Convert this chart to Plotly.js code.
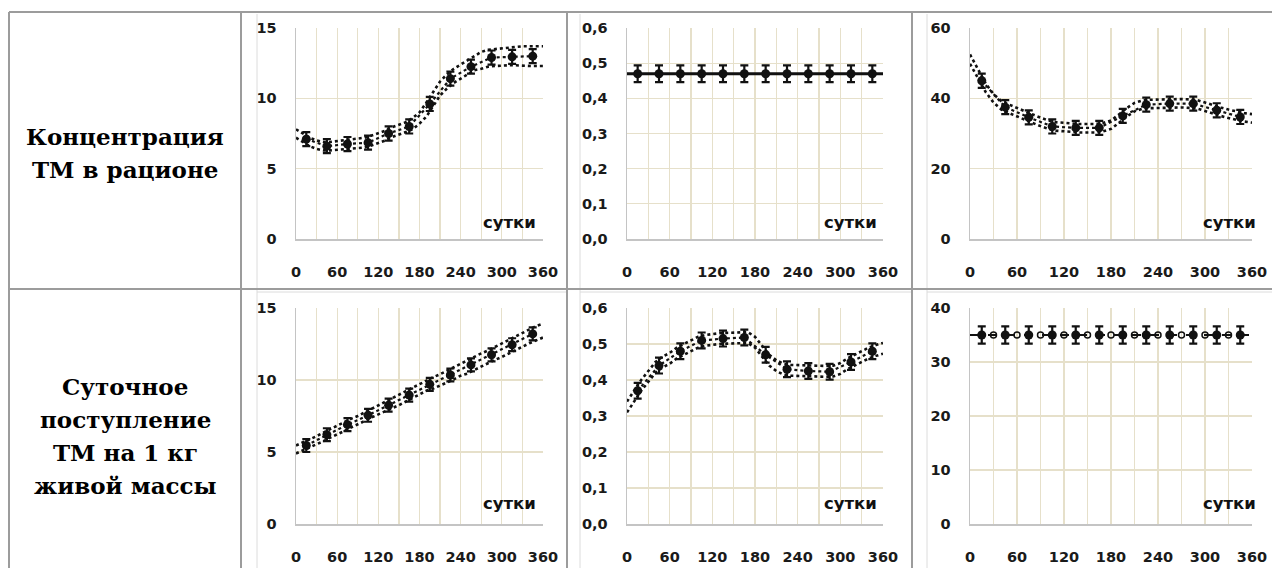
<!DOCTYPE html>
<html>
<head>
<meta charset="utf-8">
<script src="https://cdn.plot.ly/plotly-3.0.1.min.js"></script>
<style>
  html, body { margin: 0; padding: 0; background: #fff; }
  #chart { width: 1272px; height: 568px; }
</style>
</head>
<body>
<div id="chart"></div>
<script>
// ---------- DATA ----------
const days10 = [0,10,20,30,40,50,60,70,80,90,100,110,120,130,140,150,160,170,180,190,200,210,220,230,240,250,260,270,280,290,300,310,320,330,340,350,360];
const daysM = [15,45,75,105,135,165,195,225,255,285,315,345];
const days30 = [0,30,60,90,120,150,180,210,240,270,300,330,360];
const daysMid = [30,60,90,120,150,180,210,240,270,300,330];
const xTickText = ['0','','60','','120','','180','','240','','300','','360'];

const rowLabel1 = ['Концентрация', 'ТМ в рационе'];
const rowLabel2 = ['Суточное', 'поступление', 'ТМ на 1 кг', 'живой массы'];
const axisWord = 'сутки';

// Row 1, chart 1 (0–15)
const c11Upper = [7.8,7.5,7.2,7.0,6.9,6.9,6.95,7.0,7.05,7.1,7.2,7.35,7.5,7.7,7.95,8.1,8.3,8.6,9.0,9.7,10.5,11.2,11.7,12.1,12.4,12.7,13.0,13.3,13.45,13.5,13.6,13.65,13.65,13.7,13.7,13.7,13.7];
const c11Lower = [7.2,6.9,6.6,6.4,6.3,6.3,6.35,6.4,6.45,6.5,6.5,6.65,6.8,7.0,7.25,7.4,7.6,7.8,8.2,8.7,9.5,10.2,10.7,11.1,11.4,11.7,12.0,12.1,12.25,12.3,12.35,12.35,12.35,12.3,12.3,12.3,12.3];
const c11Mean = [7.1,6.6,6.75,6.85,7.5,8.0,9.6,11.4,12.25,12.9,12.95,13.0];
const c11Err = 0.5;

// Row 1, chart 2 (0–0,6)
const c12Line = [0.47,0.47,0.47,0.47,0.47,0.47,0.47,0.47,0.47,0.47,0.47,0.47,0.47];
const c12Mean = [0.47,0.47,0.47,0.47,0.47,0.47,0.47,0.47,0.47,0.47,0.47,0.47];
const c12Err = 0.024;

// Row 1, chart 3 (0–60)
const c13Upper = [52.5,48.3,44.2,41.2,39.2,38.2,37.2,36.2,35.4,34.5,33.7,33.2,33.0,32.8,32.7,32.7,32.7,33.0,33.7,35.4,37.2,38.7,39.4,39.6,39.7,39.7,39.8,39.8,39.7,39.5,38.8,38.0,37.4,36.8,36.2,35.8,35.5];
const c13Lower = [49.8,45.7,41.8,38.8,36.8,35.8,34.8,33.8,33.0,32.1,31.3,30.8,30.6,30.4,30.3,30.3,30.3,30.6,31.3,33.0,34.8,36.3,37.0,37.2,37.3,37.3,37.4,37.4,37.3,37.1,36.4,35.6,35.0,34.4,33.8,33.4,33.1];
const c13Mean = [45.0,37.5,34.6,32.0,31.6,31.6,35.0,38.2,38.5,38.5,36.6,34.7];
const c13Err = 2.0;

// Row 2, chart 1 (0–15)
const c21Upper = [5.45,5.65,5.9,6.1,6.35,6.6,6.8,7.05,7.3,7.5,7.75,8.0,8.25,8.5,8.75,8.95,9.2,9.45,9.7,9.95,10.2,10.4,10.65,10.85,11.1,11.35,11.6,11.85,12.05,12.3,12.5,12.8,13.05,13.3,13.55,13.75,13.9];
const c21Lower = [4.9,5.1,5.3,5.5,5.75,6.0,6.2,6.45,6.7,6.9,7.15,7.4,7.6,7.8,8.05,8.25,8.5,8.75,9.0,9.25,9.4,9.6,9.85,10.05,10.3,10.45,10.7,10.95,11.15,11.4,11.6,11.85,12.1,12.3,12.55,12.75,12.95];
const c21Mean = [5.45,6.2,6.9,7.55,8.25,8.95,9.7,10.35,11.05,11.75,12.45,13.2];
const c21Err = 0.45;

// Row 2, chart 2 (0–0,6)
const c22Upper = [0.34,0.37,0.40,0.425,0.45,0.465,0.475,0.49,0.50,0.51,0.52,0.525,0.528,0.53,0.531,0.532,0.533,0.533,0.52,0.495,0.47,0.455,0.445,0.442,0.441,0.44,0.44,0.439,0.439,0.44,0.447,0.46,0.47,0.48,0.49,0.497,0.503];
const c22Lower = [0.31,0.34,0.37,0.395,0.42,0.435,0.445,0.46,0.47,0.48,0.49,0.495,0.498,0.50,0.501,0.502,0.503,0.503,0.49,0.465,0.44,0.425,0.415,0.412,0.411,0.41,0.41,0.409,0.409,0.41,0.417,0.43,0.44,0.45,0.46,0.467,0.473];
const c22Mean = [0.37,0.44,0.48,0.51,0.515,0.518,0.47,0.43,0.425,0.423,0.45,0.48];
const c22Err = 0.022;

// Row 2, chart 3 (0–40)
const c23Line = [35,35,35,35,35,35,35,35,35,35,35,35,35];
const c23Mean = [35,35,35,35,35,35,35,35,35,35,35,35];
const c23Mid = [35,35,35,35,35,35,35,35,35,35,35];
const c23Err = 1.6;

// ---------- LAYOUT HELPERS ----------
const W = 1272, H = 568;
const px = x => x / W;
const py = y => 1 - y / H;

const GRID = '#e6e0ca';
const AXLINE = '#c4c4c4';
const INK = '#111111';
const TF = {family: 'DejaVu Sans', size: 14.5, color: '#1a1a1a', weight: 'bold'};

const colX = [[296,543],[627,883],[970,1252]];
const rowY = [[28,239],[308,524]];

function xAx(c, r, anchor) {
  return {
    domain: [px(colX[c][0]), px(colX[c][1])],
    anchor: anchor,
    range: [0, 360],
    tickmode: 'array', tickvals: days30, ticktext: xTickText,
    showgrid: true, gridcolor: GRID, gridwidth: 1.2,
    showline: true, linecolor: AXLINE, linewidth: 1.5,
    zeroline: false,
    ticks: 'outside', ticklen: 19, tickcolor: 'rgba(0,0,0,0)',
    tickfont: TF, fixedrange: true
  };
}
function yAx(c, r, anchor, maxV, step, fmt) {
  return {
    domain: [py(rowY[r][1]), py(rowY[r][0])],
    anchor: anchor,
    range: [0, maxV], dtick: step, tick0: 0,
    tickformat: fmt,
    showgrid: true, gridcolor: GRID, gridwidth: 1.2,
    showline: true, linecolor: AXLINE, linewidth: 1.5,
    zeroline: false,
    ticks: 'outside', ticklen: 15, tickcolor: 'rgba(0,0,0,0)',
    tickfont: TF, fixedrange: true
  };
}

function band(x, y, xa, ya) {
  return {x: x, y: y, xaxis: xa, yaxis: ya, type: 'scatter', mode: 'lines',
          line: {color: INK, width: 2.6, dash: 'dot'}, hoverinfo: 'skip'};
}
function meanTrace(y, err, xa, ya, lineStyle) {
  return {x: daysM, y: y, xaxis: xa, yaxis: ya, type: 'scatter', mode: 'lines+markers',
          line: lineStyle,
          marker: {symbol: 'circle', size: 9, color: INK},
          error_y: {type: 'constant', value: err, color: INK, thickness: 2.2, width: 4},
          hoverinfo: 'skip'};
}

const dotLine = {color: INK, width: 2.2, dash: 'dot'};

const traces = [
  band(days10, c11Upper, 'x', 'y'),
  band(days10, c11Lower, 'x', 'y'),
  meanTrace(c11Mean, c11Err, 'x', 'y', dotLine),
  {x: days30, y: c12Line, xaxis: 'x2', yaxis: 'y2', type: 'scatter', mode: 'lines',
   line: {color: INK, width: 3}, hoverinfo: 'skip'},
  meanTrace(c12Mean, c12Err, 'x2', 'y2', {color: INK, width: 0}),
  band(days10, c13Upper, 'x3', 'y3'),
  band(days10, c13Lower, 'x3', 'y3'),
  meanTrace(c13Mean, c13Err, 'x3', 'y3', dotLine),
  band(days10, c21Upper, 'x4', 'y4'),
  band(days10, c21Lower, 'x4', 'y4'),
  meanTrace(c21Mean, c21Err, 'x4', 'y4', dotLine),
  band(days10, c22Upper, 'x5', 'y5'),
  band(days10, c22Lower, 'x5', 'y5'),
  meanTrace(c22Mean, c22Err, 'x5', 'y5', dotLine),
  {x: days30, y: c23Line, xaxis: 'x6', yaxis: 'y6', type: 'scatter', mode: 'lines',
   line: {color: INK, width: 2, dash: 'dash'}, hoverinfo: 'skip'},
  {x: daysMid, y: c23Mid, xaxis: 'x6', yaxis: 'y6', type: 'scatter', mode: 'markers',
   marker: {symbol: 'circle-open', size: 6, color: INK, line: {width: 1.5}}, hoverinfo: 'skip'},
  meanTrace(c23Mean, c23Err, 'x6', 'y6', {color: INK, width: 0})
];

const borderLines = [
  [9,12,1272,12],
  [9,12,9,568],
  [241,12,241,568],
  [567,12,567,568],
  [912,12,912,568],
  [9,289,1272,289]
];
const frameLines = [
  [257,14,257,568],
  [580,14,580,568],
  [927,14,927,568],
  [257,292,566,292],
  [580,292,911,292],
  [927,292,1272,292]
];
const shapes = [];
frameLines.forEach(l => shapes.push({type:'line', xref:'paper', yref:'paper',
  x0: px(l[0]), y0: py(l[1]), x1: px(l[2]), y1: py(l[3]),
  line: {color: '#dcdcdc', width: 1}}));
borderLines.forEach(l => shapes.push({type:'line', xref:'paper', yref:'paper',
  x0: px(l[0]), y0: py(l[1]), x1: px(l[2]), y1: py(l[3]),
  line: {color: '#9c9c9c', width: 2}}));

const labelFont = {family: 'DejaVu Serif', size: 23, color: '#000', weight: 'bold'};
const wordFont = {family: 'DejaVu Sans', size: 16.5, color: '#111', weight: 'bold'};

const annotations = [];
const row1LineY = [137, 170];
const row2LineY = [386, 419, 452, 485];
rowLabel1.forEach((t, i) => annotations.push({xref:'paper', yref:'paper', x: px(125), y: py(row1LineY[i]),
  text: t, showarrow:false, xanchor:'center', yanchor:'middle', align:'center', font: labelFont}));
rowLabel2.forEach((t, i) => annotations.push({xref:'paper', yref:'paper', x: px(125), y: py(row2LineY[i]),
  text: t, showarrow:false, xanchor:'center', yanchor:'middle', align:'center', font: labelFont}));

const wordRight = [538, 879, 1258];
const wordY = [222, 503];
for (let r = 0; r < 2; r++) {
  for (let c = 0; c < 3; c++) {
    annotations.push({xref:'paper', yref:'paper', x: px(wordRight[c]), y: py(wordY[r]),
      text: axisWord, showarrow:false, xanchor:'right', yanchor:'middle', font: wordFont});
  }
}

const layout = {
  width: W, height: H,
  margin: {l:0, r:0, t:0, b:0},
  paper_bgcolor: '#ffffff', plot_bgcolor: '#ffffff',
  showlegend: false,
  hovermode: false,
  separators: ', ',
  xaxis:  xAx(0,0,'y'),
  xaxis2: xAx(1,0,'y2'),
  xaxis3: xAx(2,0,'y3'),
  xaxis4: xAx(0,1,'y4'),
  xaxis5: xAx(1,1,'y5'),
  xaxis6: xAx(2,1,'y6'),
  yaxis:  yAx(0,0,'x', 15, 5, 'd'),
  yaxis2: yAx(1,0,'x2', 0.6, 0.1, '.1f'),
  yaxis3: yAx(2,0,'x3', 60, 20, 'd'),
  yaxis4: yAx(0,1,'x4', 15, 5, 'd'),
  yaxis5: yAx(1,1,'x5', 0.6, 0.1, '.1f'),
  yaxis6: yAx(2,1,'x6', 40, 10, 'd'),
  shapes: shapes,
  annotations: annotations
};

Plotly.newPlot('chart', traces, layout, {staticPlot: true, displayModeBar: false});
</script>
</body>
</html>
